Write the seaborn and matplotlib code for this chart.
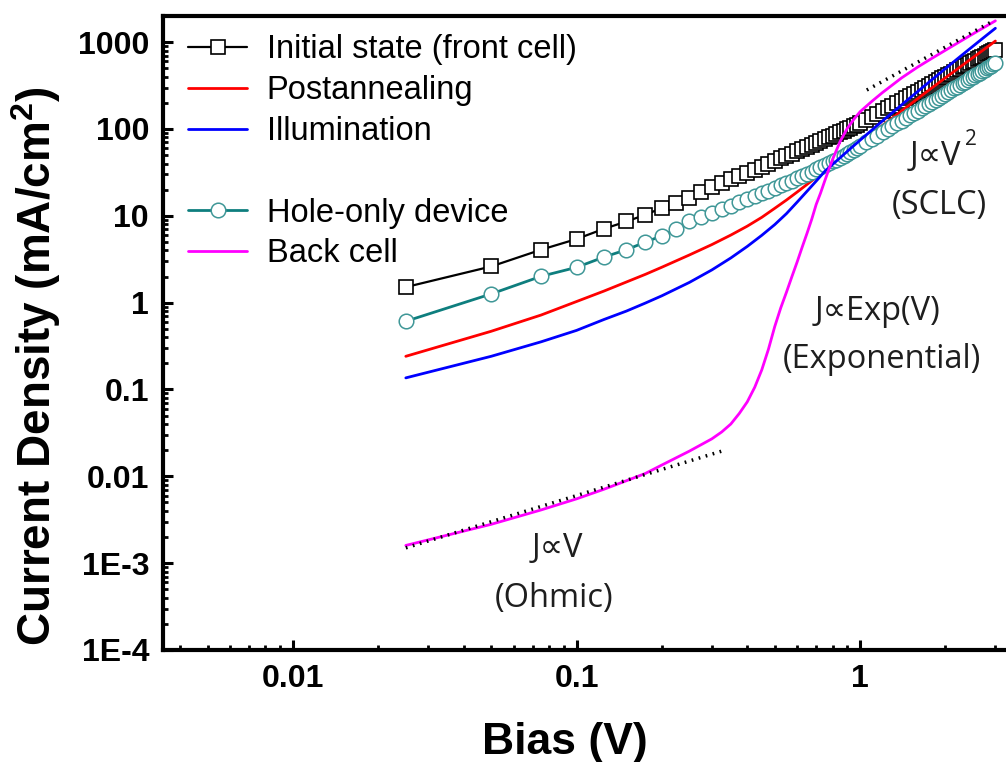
import matplotlib
matplotlib.use("Agg")
import matplotlib.pyplot as plt
from matplotlib.lines import Line2D
from matplotlib.ticker import FixedLocator, FixedFormatter, LogLocator, NullFormatter
import seaborn as sns

# bias grid of the marker series (V)
bias = [0.025, 0.05, 0.075, 0.1, 0.125, 0.15, 0.175, 0.2, 0.225, 0.25,
        0.275, 0.3, 0.325, 0.35, 0.375, 0.4, 0.425, 0.45, 0.475, 0.5,
        0.525, 0.55, 0.575, 0.6, 0.625, 0.65, 0.675, 0.7, 0.725, 0.75,
        0.775, 0.8, 0.825, 0.85, 0.875, 0.9, 0.925, 0.95, 0.975, 1.0,
        1.05, 1.1, 1.15, 1.2, 1.25, 1.3, 1.35, 1.4, 1.45, 1.5,
        1.55, 1.6, 1.65, 1.7, 1.75, 1.8, 1.85, 1.9, 1.95, 2.0,
        2.05, 2.1, 2.15, 2.2, 2.25, 2.3, 2.35, 2.4, 2.45, 2.5,
        2.55, 2.6, 2.65, 2.7, 2.75, 2.8, 2.85, 2.9, 2.95, 3.0]

# current density (mA/cm2)
front = [1.51, 2.61, 4.07, 5.40, 7.09, 8.60, 10.3, 12.3, 14.2, 16.2,
         19.0, 21.3, 23.7, 26.2, 28.8, 31.4, 34.1, 36.9, 39.8, 42.8,
         45.8, 49.0, 52.1, 55.4, 58.7, 62.1, 65.5, 69.0, 72.6, 76.2,
         80.0, 83.7, 87.5, 91.5, 95.5, 99.6, 103.8, 108.0, 112.5, 117.0,
         127.5, 138.5, 149.8, 161.6, 173.6, 186.1, 199.0, 212.2, 225.9, 239.8,
         254.1, 268.9, 284.0, 299.2, 315.0, 331.2, 347.6, 364.4, 381.5, 399.0,
         416.9, 435.0, 453.5, 472.2, 491.5, 510.9, 530.8, 551.1, 571.7, 592.3,
         613.4, 635.1, 656.6, 679.0, 701.2, 724.0, 746.8, 770.2, 793.7, 818.0]

hole_only = [0.61, 1.26, 2.01, 2.55, 3.35, 4.07, 4.98, 5.89, 7.09, 8.60,
             9.80, 10.9, 12.0, 13.1, 14.3, 15.6, 16.8, 18.2, 19.5, 20.9,
             22.4, 23.9, 25.5, 27.1, 28.8, 30.5, 32.3, 34.2, 36.1, 38.0,
             40.1, 42.3, 44.5, 46.9, 49.4, 52.0, 54.7, 57.5, 60.5, 63.6,
             70.1, 77.0, 84.1, 91.6, 99.4, 107.5, 115.9, 124.7, 133.7, 143.1,
             152.8, 162.8, 173.2, 183.8, 194.8, 206.1, 217.7, 229.6, 241.8, 254.4,
             267.3, 280.5, 294.0, 307.8, 322.0, 336.4, 351.2, 366.3, 381.8, 397.5,
             413.6, 429.9, 446.6, 463.6, 481.0, 498.6, 516.6, 534.9, 553.5, 572.4]

# bias grid of the plain line series
bias_l = [0.025, 0.05, 0.075, 0.1, 0.125, 0.15, 0.175, 0.2, 0.25, 0.3,
          0.35, 0.4, 0.45, 0.5, 0.55, 0.6, 0.65, 0.7, 0.75, 0.8,
          0.85, 0.9, 1.0, 1.1, 1.2, 1.4, 1.6, 1.8, 2.0, 2.2,
          2.4, 2.6, 2.8, 3.0]

postanneal = [0.241, 0.468, 0.72, 1.03, 1.36, 1.73, 2.12, 2.56, 3.54, 4.66,
              6.0, 7.6, 9.6, 12.2, 15.2, 18.8, 23.0, 27.8, 33.2, 39.1,
              45.6, 52.8, 69.0, 88.1, 110, 161, 225, 301, 389, 489,
              603, 730, 871, 1030]

illum = [0.136, 0.241, 0.354, 0.479, 0.64, 0.80, 0.99, 1.20, 1.71, 2.38,
         3.27, 4.44, 5.96, 7.92, 10.6, 14.4, 19.2, 25.1, 32.4, 39.1,
         46.6, 55.0, 74.3, 97.0, 124, 189, 272, 374, 496, 640,
         806, 995, 1208, 1445]

# back cell has a sharper knee, so a finer grid
bias_b = [0.025, 0.05, 0.075, 0.1, 0.125, 0.15, 0.175, 0.2, 0.25, 0.3,
          0.325, 0.35, 0.375, 0.4, 0.425, 0.45, 0.475, 0.5, 0.525, 0.55,
          0.575, 0.6, 0.625, 0.65, 0.675, 0.7, 0.725, 0.75, 0.775, 0.8,
          0.85, 0.9, 0.95, 1.0, 1.1, 1.2, 1.4, 1.6, 1.8, 2.0,
          2.2, 2.4, 2.6, 2.8, 3.0]

back = [0.0016, 0.0028, 0.0041, 0.0055, 0.0071, 0.0089, 0.0108, 0.0135, 0.0195, 0.027,
        0.0324, 0.040, 0.053, 0.072, 0.106, 0.168, 0.29, 0.53, 0.87, 1.32,
        2.0, 2.95, 4.37, 6.3, 9.1, 13.5, 18.2, 25.1, 33.9, 44.7,
        71.6, 101, 129, 158, 208, 263, 387, 519, 657, 807,
        972, 1150, 1341, 1544, 1760]

# guide lines (fits)
ohm_v = [0.025, 0.33]
ohm_j = [0.0015, 0.0198]
sclc_v = [1.056, 2.98]
sclc_j = [281, 1790]

labels = ['Initial state (front cell)', 'Postannealing', 'Illumination', ' ',
          'Hole-only device', 'Back cell']
yticks = [1e-4, 1e-3, 0.01, 0.1, 1, 10, 100, 1000]
ytick_labels = ['1E-4', '1E-3', '0.01', '0.1', '1', '10', '100', '1000']
xticks = [0.01, 0.1, 1]
xtick_labels = ['0.01', '0.1', '1']

sns.set_style("ticks")
plt.rcParams['font.family'] = ['Liberation Sans', 'DejaVu Sans']
plt.rcParams['mathtext.fontset'] = 'custom'
plt.rcParams['mathtext.rm'] = 'Liberation Sans'
plt.rcParams['mathtext.bf'] = 'Liberation Sans:bold'
plt.rcParams['text.color'] = 'black'
plt.rcParams['axes.labelcolor'] = 'black'
plt.rcParams['axes.edgecolor'] = 'black'
plt.rcParams['xtick.color'] = 'black'
plt.rcParams['ytick.color'] = 'black'

fig = plt.figure(figsize=(10.06, 7.62), dpi=100)
ax = fig.add_axes([0.162, 0.147, 0.838, 0.832])

teal = '#0e7e7e'
sns.lineplot(x=bias, y=front, ax=ax, color='black', lw=1.6, marker='s', markersize=9.5,
             markerfacecolor='white', markeredgecolor='black', markeredgewidth=1.2,
             estimator=None, sort=False, zorder=2)
sns.lineplot(x=bias_l, y=postanneal, ax=ax, color='#ff0000', lw=2, estimator=None, sort=False, zorder=3)
sns.lineplot(x=bias, y=hole_only, ax=ax, color=teal, lw=2, marker='o', markersize=10.5,
             markerfacecolor='white', markeredgecolor='#3f9797', markeredgewidth=1.1,
             estimator=None, sort=False, zorder=4)
sns.lineplot(x=bias_l, y=illum, ax=ax, color='#0000ff', lw=2, estimator=None, sort=False, zorder=5)
sns.lineplot(x=bias_b, y=back, ax=ax, color='#ff00ff', lw=2, estimator=None, sort=False, zorder=6)

ax.plot(ohm_v, ohm_j, color='black', lw=2.5, ls=(0, (0.5, 1.6)), zorder=7)
ax.plot(sclc_v, sclc_j, color='black', lw=2.5, ls=(0, (0.5, 1.6)), zorder=7)

ax.set_xscale('log')
ax.set_yscale('log')
ax.set_xlim(0.00348, 3.27)
ax.set_ylim(1e-4, 2000)

ax.xaxis.set_major_locator(FixedLocator(xticks))
ax.xaxis.set_major_formatter(FixedFormatter(xtick_labels))
ax.xaxis.set_minor_locator(LogLocator(base=10, subs=range(2, 10), numticks=50))
ax.xaxis.set_minor_formatter(NullFormatter())
ax.yaxis.set_major_locator(FixedLocator(yticks))
ax.yaxis.set_major_formatter(FixedFormatter(ytick_labels))
ax.yaxis.set_minor_locator(LogLocator(base=10, subs=range(2, 10), numticks=50))
ax.yaxis.set_minor_formatter(NullFormatter())

ax.tick_params(which='major', direction='in', length=7, width=2.2, labelsize=23, pad=10)
ax.tick_params(which='minor', direction='in', length=3.5, width=2)
ax.tick_params(axis='x', pad=10)
for lab in ax.get_xticklabels() + ax.get_yticklabels():
    lab.set_fontweight('bold')

for s in ['left', 'bottom', 'top']:
    ax.spines[s].set_linewidth(3)
ax.spines['right'].set_visible(False)

ax.set_xlabel('Bias (V)', fontsize=32, fontweight='bold')
ax.xaxis.set_label_coords(0.477, -0.113)
ax.set_ylabel(r'Current Density (mA/cm$^\mathbf{2}$)', fontsize=33, fontweight='bold')
ax.yaxis.set_label_coords(-0.118, 0.447)

# legend
handles = [
    Line2D([], [], color='black', lw=1.6, marker='s', markersize=9.5, markerfacecolor='white',
           markeredgecolor='black', markeredgewidth=1.2),
    Line2D([], [], color='#ff0000', lw=2),
    Line2D([], [], color='#0000ff', lw=2),
    Line2D([], [], color='none', lw=0),
    Line2D([], [], color=teal, lw=2, marker='o', markersize=10.5, markerfacecolor='white',
           markeredgecolor='#3f9797', markeredgewidth=1.1),
    Line2D([], [], color='#ff00ff', lw=2),
]
ax.legend(handles, labels, loc='upper left', bbox_to_anchor=(0.03, 0.971), frameon=False,
          fontsize=23.5, handlelength=1.8, handletextpad=0.6, labelspacing=0.3,
          borderpad=0, borderaxespad=0)

ann = dict(family=['Open Sans', 'DejaVu Sans'], fontsize=23.5, color='#1e1e1e',
           ha='center', va='center')
ax.text(1.84, 47.7, 'J\u221dV', **ann)
ax.text(2.45, 74.7, '2', family=['Open Sans', 'DejaVu Sans'], fontsize=15, color='#1e1e1e',
        ha='center', va='center')
ax.text(1.91, 13.3, '(SCLC)', **ann)
ax.text(1.15, 0.79, 'J\u221dExp(V)', **ann)
ax.text(1.195, 0.22, '(Exponential)', **ann)
ax.text(0.0857, 1.49e-3, 'J\u221dV', **ann)
ax.text(0.083, 3.95e-4, '(Ohmic)', **ann)

fig.savefig('out.png', dpi=100)
